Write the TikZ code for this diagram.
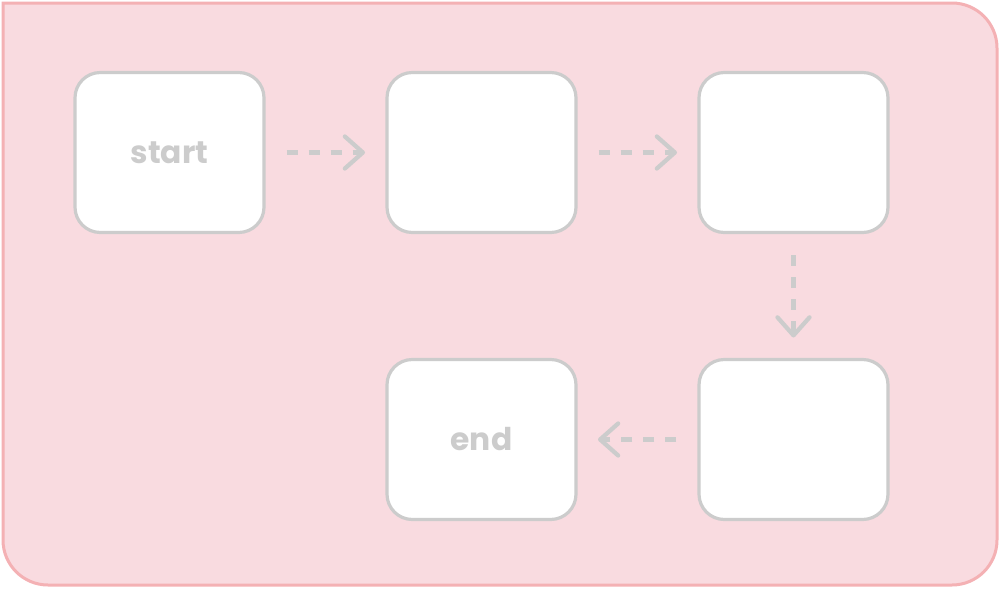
\documentclass[tikz,border=0pt]{standalone}
\usepackage{fontspec}
\setmainfont{Poppins}
\usepackage{tikz}
\usetikzlibrary{positioning,arrows.meta}

\definecolor{boxgray}{HTML}{CCCCCC}
\definecolor{pinkfill}{HTML}{F9DBE0}
\definecolor{pinkline}{HTML}{F4B1B4}

\begin{document}
\begin{tikzpicture}[x=0.75pt,y=0.75pt,
    stepbox/.style={draw=boxgray, fill=white, line width=2.4pt, rounded corners=19pt,
        minimum width=141.75pt, minimum height=120pt, inner sep=0pt, outer sep=0pt,
        text=boxgray, font=\fontsize{23.5}{26}\selectfont\bfseries},
    flow/.style={draw=boxgray, line width=3.2pt, dash pattern=on 8.25pt off 8.25pt,
        shorten <=17pt, shorten >=16.5pt,
        -{Straight Barb[length=13.5pt,width=24pt,line cap=round,line join=round]}}]
    % Canvas size
    \useasboundingbox (0,0) rectangle (1000,-589);
    \def\rad{45}

    % Pink frame, top left corner kept square
    \draw[pinkline, fill=pinkfill, line width=2.25pt]
        (3,-3) -- (997-\rad,-3) arc (90:0:\rad) -- (997,-585+\rad) arc (0:-90:\rad)
        -- (3+\rad,-585) arc (270:180:\rad) -- cycle;

    % Steps
    \node[stepbox] (start) at (169.5,-152.5) {start};
    \node[stepbox, right=92.25pt of start] (stepB) {};
    \node[stepbox, right=92.25pt of stepB] (stepC) {};
    \node[stepbox, below=95.25pt of stepC] (stepD) {};
    \node[stepbox, left=92.25pt of stepD] (end) {end};

    % Flow
    \draw[flow] (start) -- (stepB);
    \draw[flow] (stepB) -- (stepC);
    \draw[flow] (stepC) -- (stepD);
    \draw[flow] (stepD) -- (end);
\end{tikzpicture}
\end{document}
